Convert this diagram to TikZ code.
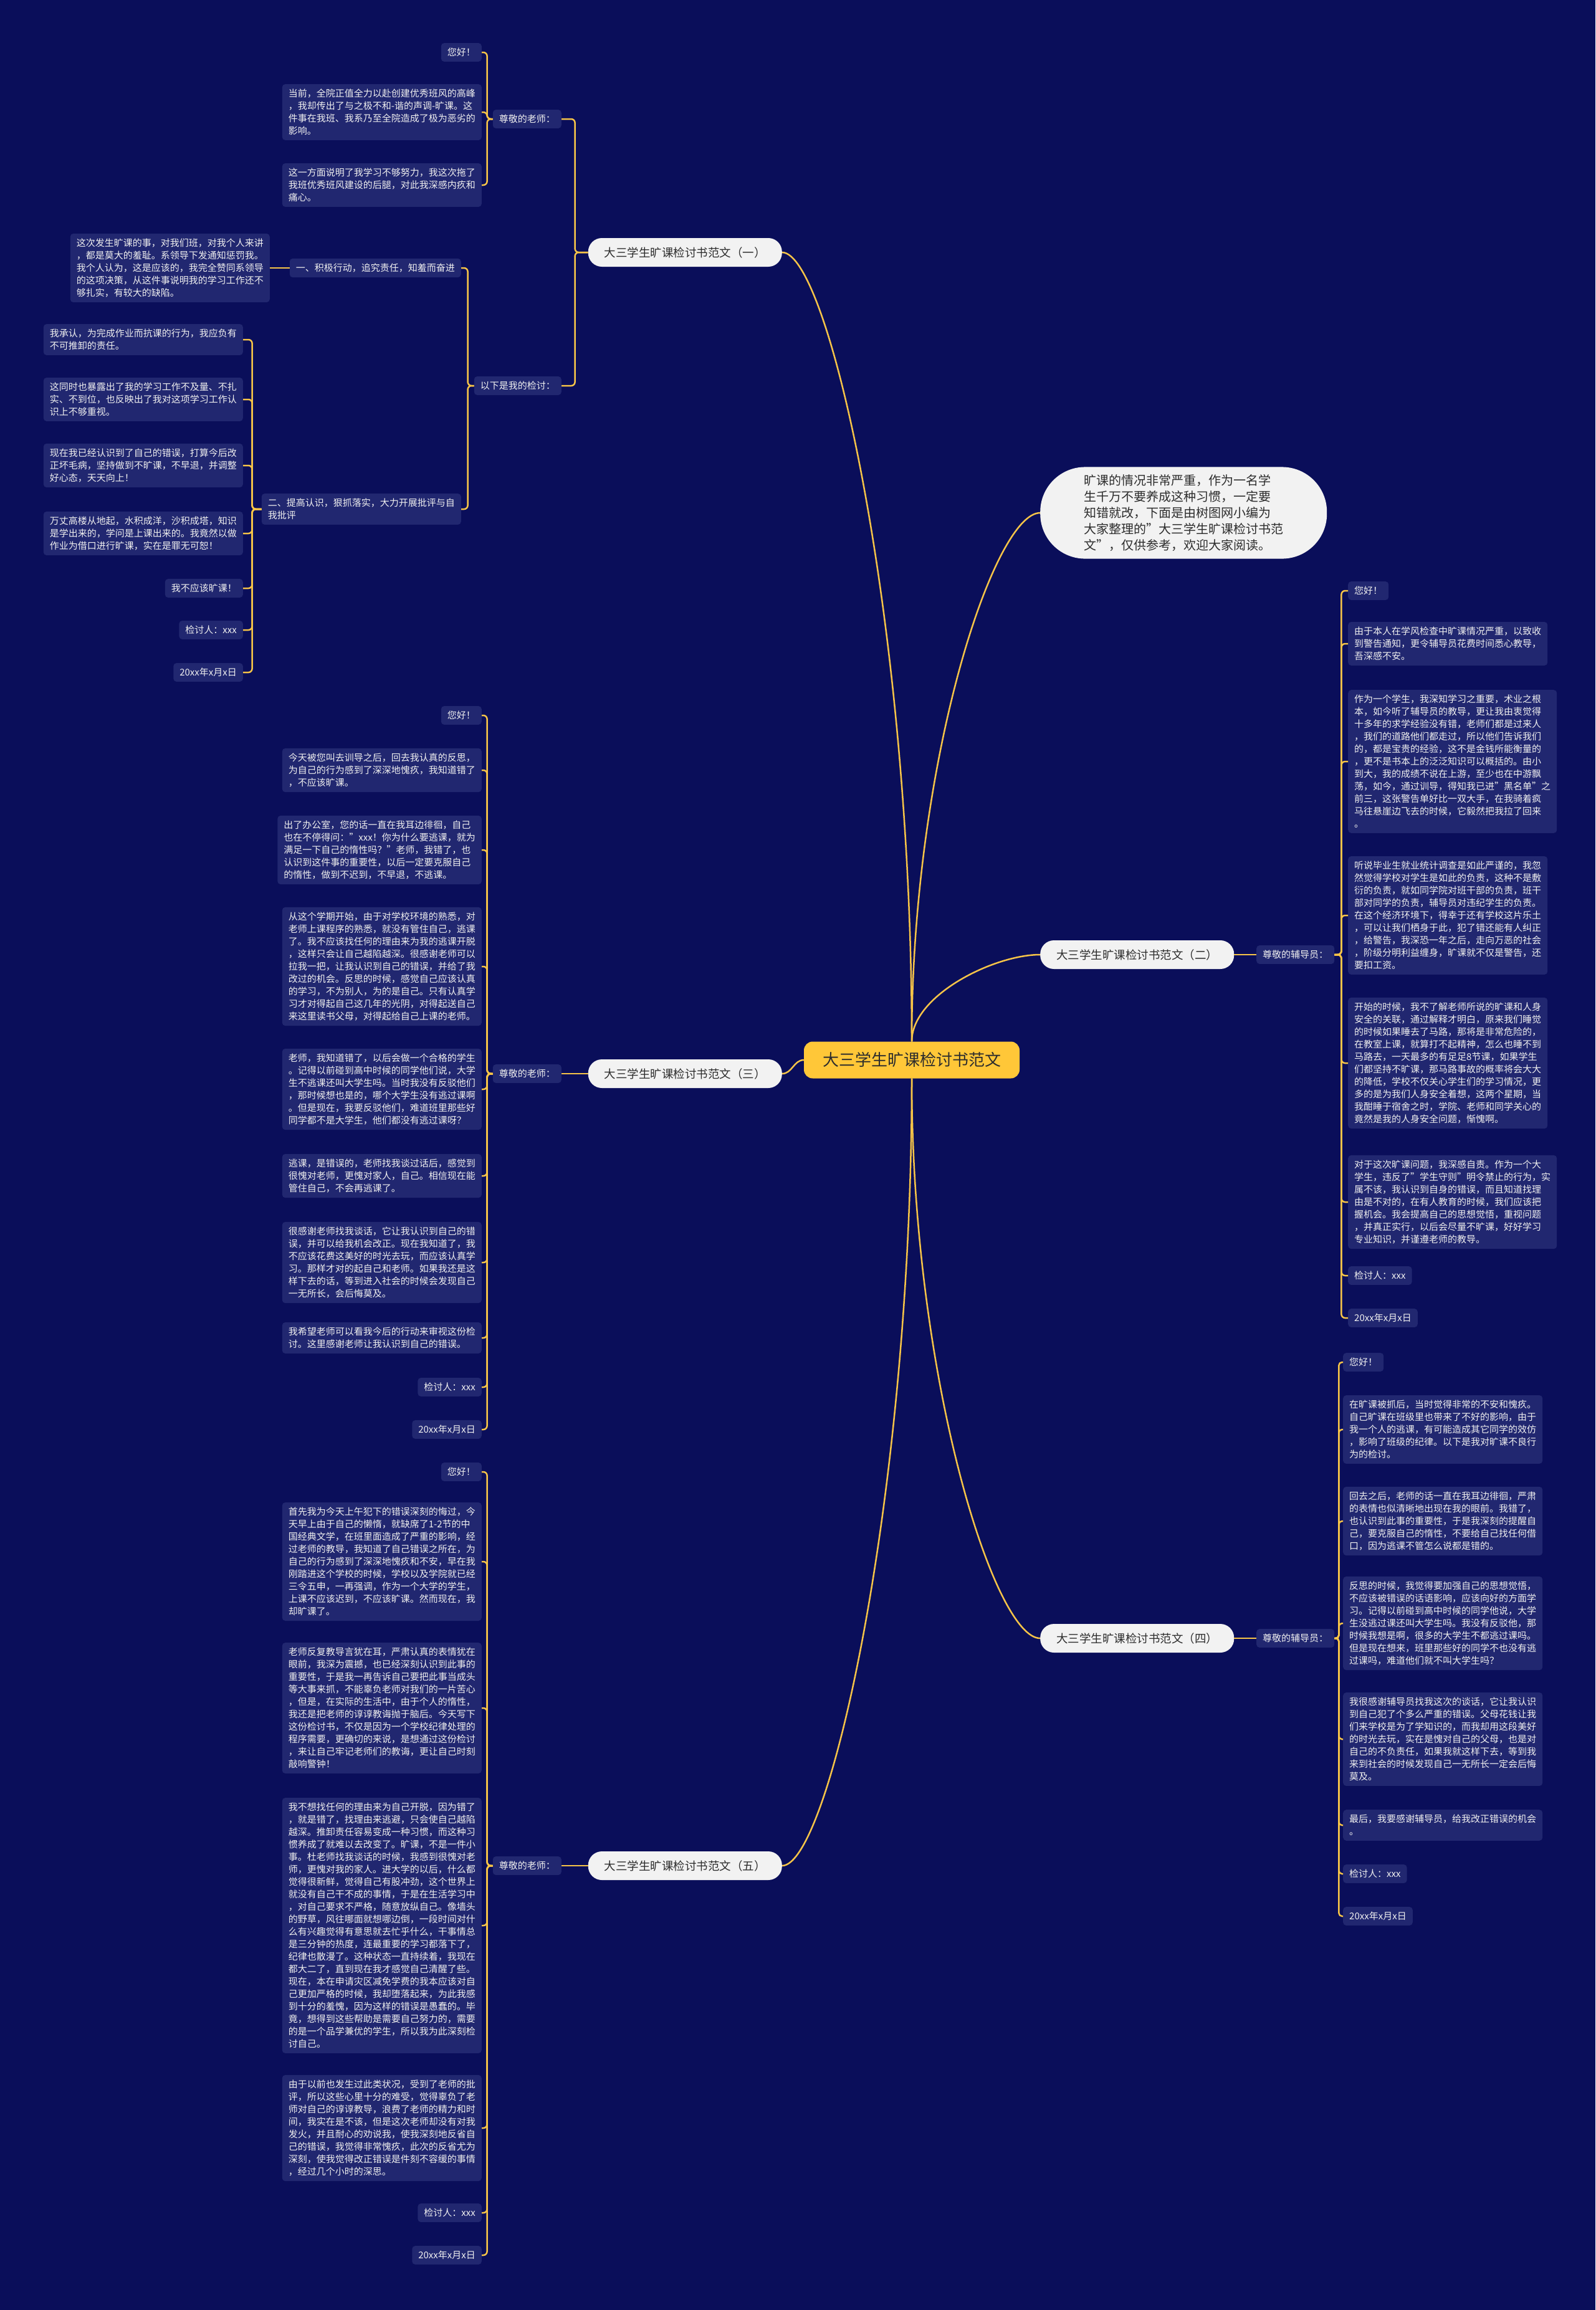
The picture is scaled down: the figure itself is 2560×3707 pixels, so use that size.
\documentclass[tikz,border=0pt]{standalone}
\usepackage{fontspec}
\setmainfont{Noto Sans CJK SC}
\definecolor{bg}{RGB}{10,14,90}
\definecolor{leafbg}{RGB}{33,39,112}
\definecolor{linkc}{RGB}{246,196,72}
\definecolor{rootc}{RGB}{255,199,56}
\definecolor{pale}{RGB}{242,242,242}
\definecolor{ink}{RGB}{45,45,45}
\tikzset{
  leaf/.style={fill=leafbg, text=white!94!black, rounded corners=5, inner xsep=10, inner ysep=8, align=left, font=\fontsize{15}{20}\selectfont},
  branch/.style={fill=pale, text=ink, rounded corners=22, inner xsep=26, minimum height=46, font=\fontsize{18.5}{22}\selectfont},
  root/.style={fill=rootc, text=ink, rounded corners=14, inner xsep=30, minimum height=59, font=\fontsize{26}{30}\selectfont},
  bubble/.style={fill=pale, text=ink, rounded corners=72, inner xsep=70, inner ysep=12, align=left, font=\fontsize{20}{26}\selectfont},
  link/.style={draw=linkc, line width=2.5, rounded corners=6},
}
\begin{document}
\begin{tikzpicture}[x=1pt,y=1pt]
  \fill[bg] (0,0) rectangle (2560,-3707);
  \useasboundingbox (0,0) rectangle (2560,-3707);

  \node[root] (root) at (1463,-1701) {大三学生旷课检讨书范文};
  \node[bubble, anchor=west] (intro) at (1669,-823) {旷课的情况非常严重，作为一名学\\生千万不要养成这种习惯，一定要\\知错就改，下面是由树图网小编为\\大家整理的"大三学生旷课检讨书范\\文"，仅供参考，欢迎大家阅读。};

  \node[branch, anchor=east] (b1) at (1255,-405) {大三学生旷课检讨书范文（一）};
  \node[branch, anchor=west] (b2) at (1669,-1532) {大三学生旷课检讨书范文（二）};
  \node[branch, anchor=east] (b3) at (1255,-1723) {大三学生旷课检讨书范文（三）};
  \node[branch, anchor=west] (b4) at (1669,-2629) {大三学生旷课检讨书范文（四）};
  \node[branch, anchor=east] (b5) at (1255,-2994) {大三学生旷课检讨书范文（五）};

  \node[leaf, anchor=east] (b1s1) at (901,-191) {尊敬的老师：};
  \node[leaf, anchor=east] (b1s2) at (901,-619) {以下是我的检讨：};
  \node[leaf, anchor=west] (b2s) at (2016,-1532) {尊敬的辅导员：};
  \node[leaf, anchor=east] (b3s) at (901,-1723) {尊敬的老师：};
  \node[leaf, anchor=west] (b4s) at (2016,-2629) {尊敬的辅导员：};
  \node[leaf, anchor=east] (b5s) at (901,-2994) {尊敬的老师：};

  % (一)
  \node[leaf, anchor=east] (a1) at (773,-84) {您好！};
  \node[leaf, anchor=east] (a2) at (773,-180) {当前，全院正值全力以赴创建优秀班风的高峰\\，我却传出了与之极不和-谐的声调-旷课。这\\件事在我班、我系乃至全院造成了极为恶劣的\\影响。};
  \node[leaf, anchor=east] (a3) at (773,-297) {这一方面说明了我学习不够努力，我这次拖了\\我班优秀班风建设的后腿，对此我深感内疚和\\痛心。};
  \node[leaf, anchor=east] (p1) at (740,-430) {一、积极行动，追究责任，知羞而奋进};
  \node[leaf, anchor=east] (p1a) at (433,-430) {这次发生旷课的事，对我们班，对我个人来讲\\，都是莫大的羞耻。系领导下发通知惩罚我。\\我个人认为，这是应该的，我完全赞同系领导\\的这项决策，从这件事说明我的学习工作还不\\够扎实，有较大的缺陷。};
  \node[leaf, anchor=east] (p2) at (740,-817) {二、提高认识，狠抓落实，大力开展批评与自\\我批评};
  \node[leaf, anchor=east] (c1) at (390,-545) {我承认，为完成作业而抗课的行为，我应负有\\不可推卸的责任。};
  \node[leaf, anchor=east] (c2) at (390,-641) {这同时也暴露出了我的学习工作不及量、不扎\\实、不到位，也反映出了我对这项学习工作认\\识上不够重视。};
  \node[leaf, anchor=east] (c3) at (390,-747) {现在我已经认识到了自己的错误，打算今后改\\正坏毛病，坚持做到不旷课，不早退，并调整\\好心态，天天向上！};
  \node[leaf, anchor=east] (c4) at (390,-856) {万丈高楼从地起，水积成洋，沙积成塔，知识\\是学出来的，学问是上课出来的。我竟然以做\\作业为借口进行旷课，实在是罪无可恕！};
  \node[leaf, anchor=east] (c5) at (390,-944) {我不应该旷课！};
  \node[leaf, anchor=east] (c6) at (390,-1011) {检讨人：xxx};
  \node[leaf, anchor=east] (c7) at (390,-1079) {20xx年x月x日};

  % (二)
  \node[leaf, anchor=west] (d1) at (2163,-948) {您好！};
  \node[leaf, anchor=west] (d2) at (2163,-1033) {由于本人在学风检查中旷课情况严重，以致收\\到警告通知，更令辅导员花费时间悉心教导，\\吾深感不安。};
  \node[leaf, anchor=west] (d3) at (2163,-1222) {作为一个学生，我深知学习之重要，术业之根\\本，如今听了辅导员的教导，更让我由衷觉得\\十多年的求学经验没有错，老师们都是过来人\\，我们的道路他们都走过，所以他们告诉我们\\的，都是宝贵的经验，这不是金钱所能衡量的\\，更不是书本上的泛泛知识可以概括的。由小\\到大，我的成绩不说在上游，至少也在中游飘\\荡，如今，通过训导，得知我已进"黑名单"之\\前三，这张警告单好比一双大手，在我骑着疯\\马往悬崖边飞去的时候，它毅然把我拉了回来\\。};
  \node[leaf, anchor=west] (d4) at (2163,-1469) {听说毕业生就业统计调查是如此严谨的，我忽\\然觉得学校对学生是如此的负责，这种不是敷\\衍的负责，就如同学院对班干部的负责，班干\\部对同学的负责，辅导员对违纪学生的负责。\\在这个经济环境下，得幸于还有学校这片乐土\\，可以让我们栖身于此，犯了错还能有人纠正\\，给警告，我深恐一年之后，走向万恶的社会\\，阶级分明利益缠身，旷课就不仅是警告，还\\要扣工资。};
  \node[leaf, anchor=west] (d5) at (2163,-1706) {开始的时候，我不了解老师所说的旷课和人身\\安全的关联，通过解释才明白，原来我们睡觉\\的时候如果睡去了马路，那将是非常危险的，\\在教室上课，就算打不起精神，怎么也睡不到\\马路去，一天最多的有足足8节课，如果学生\\们都坚持不旷课，那马路事故的概率将会大大\\的降低，学校不仅关心学生们的学习情况，更\\多的是为我们人身安全着想，这两个星期，当\\我酣睡于宿舍之时，学院、老师和同学关心的\\竟然是我的人身安全问题，惭愧啊。};
  \node[leaf, anchor=west] (d6) at (2163,-1929) {对于这次旷课问题，我深感自责。作为一个大\\学生，违反了"学生守则"明令禁止的行为，实\\属不该，我认识到自身的错误，而且知道找理\\由是不对的，在有人教育的时候，我们应该把\\握机会。我会提高自己的思想觉悟，重视问题\\，并真正实行，以后会尽量不旷课，好好学习\\专业知识，并谨遵老师的教导。};
  \node[leaf, anchor=west] (d7) at (2163,-2047) {检讨人：xxx};
  \node[leaf, anchor=west] (d8) at (2163,-2115) {20xx年x月x日};

  % (三)
  \node[leaf, anchor=east] (e1) at (773,-1148) {您好！};
  \node[leaf, anchor=east] (e2) at (773,-1236) {今天被您叫去训导之后，回去我认真的反思，\\为自己的行为感到了深深地愧疚，我知道错了\\，不应该旷课。};
  \node[leaf, anchor=east] (e3) at (773,-1364) {出了办公室，您的话一直在我耳边徘徊，自己\\也在不停得问："xxx！你为什么要逃课，就为\\满足一下自己的惰性吗？"老师，我错了，也\\认识到这件事的重要性，以后一定要克服自己\\的惰性，做到不迟到，不早退，不逃课。};
  \node[leaf, anchor=east] (e4) at (773,-1551) {从这个学期开始，由于对学校环境的熟悉，对\\老师上课程序的熟悉，就没有管住自己，逃课\\了。我不应该找任何的理由来为我的逃课开脱\\，这样只会让自己越陷越深。很感谢老师可以\\拉我一把，让我认识到自己的错误，并给了我\\改过的机会。反思的时候，感觉自己应该认真\\的学习，不为别人，为的是自己。只有认真学\\习才对得起自己这几年的光阴，对得起送自己\\来这里读书父母，对得起给自己上课的老师。};
  \node[leaf, anchor=east] (e5) at (773,-1748) {老师，我知道错了，以后会做一个合格的学生\\。记得以前碰到高中时候的同学他们说，大学\\生不逃课还叫大学生吗。当时我没有反驳他们\\，那时候想也是的，哪个大学生没有逃过课啊\\。但是现在，我要反驳他们，难道班里那些好\\同学都不是大学生，他们都没有逃过课呀？};
  \node[leaf, anchor=east] (e6) at (773,-1887) {逃课，是错误的，老师找我谈过话后，感觉到\\很愧对老师，更愧对家人，自己。相信现在能\\管住自己，不会再逃课了。};
  \node[leaf, anchor=east] (e7) at (773,-2026) {很感谢老师找我谈话，它让我认识到自己的错\\误，并可以给我机会改正。现在我知道了，我\\不应该花费这美好的时光去玩，而应该认真学\\习。那样才对的起自己和老师。如果我还是这\\样下去的话，等到进入社会的时候会发现自己\\一无所长，会后悔莫及。};
  \node[leaf, anchor=east] (e8) at (773,-2147) {我希望老师可以看我今后的行动来审视这份检\\讨。这里感谢老师让我认识到自己的错误。};
  \node[leaf, anchor=east] (e9) at (773,-2226) {检讨人：xxx};
  \node[leaf, anchor=east] (e10) at (773,-2294) {20xx年x月x日};

  % (四)
  \node[leaf, anchor=west] (f1) at (2155,-2186) {您好！};
  \node[leaf, anchor=west] (f2) at (2155,-2294) {在旷课被抓后，当时觉得非常的不安和愧疚。\\自己旷课在班级里也带来了不好的影响，由于\\我一个人的逃课，有可能造成其它同学的效仿\\，影响了班级的纪律。以下是我对旷课不良行\\为的检讨。};
  \node[leaf, anchor=west] (f3) at (2155,-2441) {回去之后，老师的话一直在我耳边徘徊，严肃\\的表情也似清晰地出现在我的眼前。我错了，\\也认识到此事的重要性，于是我深刻的提醒自\\己，要克服自己的惰性，不要给自己找任何借\\口，因为逃课不管怎么说都是错的。};
  \node[leaf, anchor=west] (f4) at (2155,-2605) {反思的时候，我觉得要加强自己的思想觉悟，\\不应该被错误的话语影响，应该向好的方面学\\习。记得以前碰到高中时候的同学他说，大学\\生没逃过课还叫大学生吗。我没有反驳他，那\\时候我想是啊，很多的大学生不都逃过课吗。\\但是现在想来，班里那些好的同学不也没有逃\\过课吗，难道他们就不叫大学生吗？};
  \node[leaf, anchor=west] (f5) at (2155,-2791) {我很感谢辅导员找我这次的谈话，它让我认识\\到自己犯了个多么严重的错误。父母花钱让我\\们来学校是为了学知识的，而我却用这段美好\\的时光去玩，实在是愧对自己的父母，也是对\\自己的不负责任，如果我就这样下去，等到我\\来到社会的时候发现自己一无所长一定会后悔\\莫及。};
  \node[leaf, anchor=west] (f6) at (2155,-2929) {最后，我要感谢辅导员，给我改正错误的机会\\。};
  \node[leaf, anchor=west] (f7) at (2155,-3007) {检讨人：xxx};
  \node[leaf, anchor=west] (f8) at (2155,-3075) {20xx年x月x日};

  % (五)
  \node[leaf, anchor=east] (g1) at (773,-2362) {您好！};
  \node[leaf, anchor=east] (g2) at (773,-2506) {首先我为今天上午犯下的错误深刻的悔过，今\\天早上由于自己的懒惰，就缺席了1-2节的中\\国经典文学，在班里面造成了严重的影响，经\\过老师的教导，我知道了自己错误之所在，为\\自己的行为感到了深深地愧疚和不安，早在我\\刚踏进这个学校的时候，学校以及学院就已经\\三令五申，一再强调，作为一个大学的学生，\\上课不应该迟到，不应该旷课。然而现在，我\\却旷课了。};
  \node[leaf, anchor=east] (g3) at (773,-2741) {老师反复教导言犹在耳，严肃认真的表情犹在\\眼前，我深为震撼，也已经深刻认识到此事的\\重要性，于是我一再告诉自己要把此事当成头\\等大事来抓，不能辜负老师对我们的一片苦心\\，但是，在实际的生活中，由于个人的惰性，\\我还是把老师的谆谆教诲抛于脑后。今天写下\\这份检讨书，不仅是因为一个学校纪律处理的\\程序需要，更确切的来说，是想通过这份检讨\\，来让自己牢记老师们的教诲，更让自己时刻\\敲响警钟！};
  \node[leaf, anchor=east] (g4) at (773,-3090) {我不想找任何的理由来为自己开脱，因为错了\\，就是错了，找理由来逃避，只会使自己越陷\\越深。推卸责任容易变成一种习惯，而这种习\\惯养成了就难以去改变了。旷课，不是一件小\\事。杜老师找我谈话的时候，我感到很愧对老\\师，更愧对我的家人。进大学的以后，什么都\\觉得很新鲜，觉得自己有股冲劲，这个世界上\\就没有自己干不成的事情，于是在生活学习中\\，对自己要求不严格，随意放纵自己。像墙头\\的野草，风往哪面就想哪边倒，一段时间对什\\么有兴趣觉得有意思就去忙乎什么，干事情总\\是三分钟的热度，连最重要的学习都落下了，\\纪律也散漫了。这种状态一直持续着，我现在\\都大二了，直到现在我才感觉自己清醒了些。\\现在，本在申请灾区减免学费的我本应该对自\\己更加严格的时候，我却堕落起来，为此我感\\到十分的羞愧，因为这样的错误是愚蠢的。毕\\竟，想得到这些帮助是需要自己努力的，需要\\的是一个品学兼优的学生，所以我为此深刻检\\讨自己。};
  \node[leaf, anchor=east] (g5) at (773,-3415) {由于以前也发生过此类状况，受到了老师的批\\评，所以这些心里十分的难受，觉得辜负了老\\师对自己的谆谆教导，浪费了老师的精力和时\\间，我实在是不该，但是这次老师却没有对我\\发火，并且耐心的劝说我，使我深刻地反省自\\己的错误，我觉得非常愧疚，此次的反省尤为\\深刻，使我觉得改正错误是件刻不容缓的事情\\，经过几个小时的深思。};
  \node[leaf, anchor=east] (g6) at (773,-3551) {检讨人：xxx};
  \node[leaf, anchor=east] (g7) at (773,-3619) {20xx年x月x日};

  % connectors
  \draw[link] (root.north) .. controls +(0,671) and +(75,0) .. (b1.east);
  \draw[link] (root.north) .. controls +(0,449) and +(-74,0) .. (intro.west);
  \draw[link] (root.north) .. controls +(0,74) and +(-74,0) .. (b2.west);
  \draw[link] (root.west) to[out=180,in=0] (b3.east);
  \draw[link] (root.south) .. controls +(0,-476) and +(-74,0) .. (b4.west);
  \draw[link] (root.south) .. controls +(0,-669) and +(75,0) .. (b5.east);

  \foreach \n in {b1s1,b1s2} \draw[link] (b1.west) -- ++(-21,0) |- (\n.east);
  \draw[link] (b2.east) -- (b2s.west);
  \draw[link] (b3.west) -- (b3s.east);
  \draw[link] (b4.east) -- (b4s.west);
  \draw[link] (b5.west) -- (b5s.east);

  \foreach \n in {a1,a2,a3} \draw[link] (b1s1.west) -- ++(-9,0) |- (\n.east);
  \foreach \n in {p1,p2} \draw[link] (b1s2.west) -- ++(-10,0) |- (\n.east);
  \draw[link] (p1.west) -- (p1a.east);
  \foreach \i in {1,...,7} \draw[link] (p2.west) -- ++(-15,0) |- (c\i.east);
  \foreach \i in {1,...,8} \draw[link] (b2s.east) -- ++(11,0) |- (d\i.west);
  \foreach \i in {1,...,10} \draw[link] (b3s.west) -- ++(-9,0) |- (e\i.east);
  \foreach \i in {1,...,8} \draw[link, rounded corners=5] (b4s.east) -- ++(7,0) |- (f\i.west);
  \foreach \i in {1,...,7} \draw[link] (b5s.west) -- ++(-9,0) |- (g\i.east);
\end{tikzpicture}
\end{document}
